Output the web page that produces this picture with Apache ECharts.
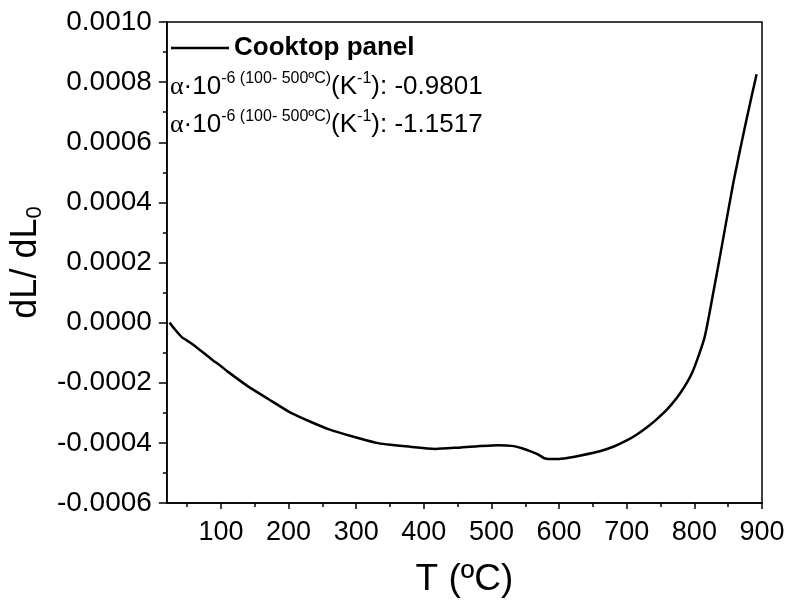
<!DOCTYPE html>
<html>
<head>
<meta charset="utf-8">
<script src="https://cdn.jsdelivr.net/npm/echarts@6/dist/echarts.min.js"></script>
<style>html,body{margin:0;padding:0;background:#fff}#c{width:788px;height:603px}</style>
</head>
<body>
<div id="c"></div>
<script>
const temps = [24, 31, 42, 50, 60, 85, 100, 110, 140, 170, 205, 260, 330, 380, 417, 455, 510, 530, 545, 560, 570, 578, 590, 610, 632, 660, 681, 700, 715, 730, 745, 760, 779, 797, 815, 828, 838, 858, 877, 892];
const dL = [0, -0.00002, -0.000048, -0.00006, -0.000075, -0.00012, -0.000145, -0.000163, -0.000212, -0.000254, -0.000302, -0.000355, -0.0004, -0.000413, -0.00042, -0.000415, -0.000408, -0.00041, -0.000418, -0.00043, -0.00044, -0.000451, -0.000454, -0.000451, -0.000442, -0.000428, -0.000412, -0.000392, -0.000372, -0.000348, -0.00032, -0.000288, -0.000235, -0.000165, -0.00005, 0.0001, 0.000222, 0.00047, 0.000675, 0.000826];
const xMajorTicks = [100, 200, 300, 400, 500, 600, 700, 800, 900];
const xMinorTicks = [50, 150, 250, 350, 450, 550, 650, 750, 850];
const seriesName = 'Cooktop panel';
const coefLines = ['-0.9801', '-1.1517'];

const chart = echarts.init(document.getElementById('c'), null, {renderer: 'canvas'});
const F = 'Liberation Sans, Arial, sans-serif';
const richCoef = {
  a: {fontFamily: 'Liberation Serif, serif', fontSize: 26, lineHeight: 32, color: '#000'},
  n: {fontFamily: F, fontSize: 26, lineHeight: 32, color: '#000'},
  s: {fontFamily: F, fontSize: 16, lineHeight: 17, verticalAlign: 'top', color: '#000'}
};
function coefText(v) {
  return '{a|α}{n|·10}{s|-6 (100- 500ºC)}{n|(K}{s|-1}{n|): ' + v + '}';
}
const option = {
  animation: false,
  backgroundColor: '#fff',
  grid: {left: 163, right: 26, top: 22, bottom: 98, show: true, borderColor: '#000', borderWidth: 1.5, backgroundColor: 'transparent'},
  legend: {
    show: true, left: 166, top: 30, icon: 'rect', itemWidth: 58, itemHeight: 2.5, itemGap: 7,
    textStyle: {fontFamily: F, fontSize: 26, fontWeight: 'bold', color: '#000'},
    data: [seriesName]
  },
  xAxis: [{
    type: 'value', min: 20, max: 900,
    name: 'T (ºC)', nameLocation: 'middle', nameGap: 58,
    nameTextStyle: {fontFamily: F, fontSize: 37, color: '#000'},
    axisLine: {show: true, onZero: false, lineStyle: {color: '#000', width: 1.5}},
    axisTick: {show: true, length: 6, inside: false, lineStyle: {color: '#000', width: 1.5}, customValues: xMajorTicks},
    axisLabel: {fontFamily: F, fontSize: 27, color: '#000', margin: 16, customValues: xMajorTicks},
    splitLine: {show: false}
  }, {
    type: 'value', min: 20, max: 900, position: 'bottom', gridIndex: 0,
    axisLine: {show: false, onZero: false},
    axisTick: {show: true, length: 4, lineStyle: {color: '#000', width: 1.5}, customValues: xMinorTicks},
    axisLabel: {show: false},
    splitLine: {show: false}
  }],
  yAxis: {
    type: 'value', min: -0.0006, max: 0.001, interval: 0.0002,
    name: '{n|dL/ dL}{s|0}', nameLocation: 'middle', nameGap: 116, nameRotate: 90,
    nameTextStyle: {rich: {
      n: {fontFamily: F, fontSize: 36, lineHeight: 40, color: '#000'},
      s: {fontFamily: F, fontSize: 22, lineHeight: 22, verticalAlign: 'bottom', color: '#000'}
    }},
    axisLine: {show: true, onZero: false, lineStyle: {color: '#000', width: 1.5}},
    axisTick: {show: true, length: 8, lineStyle: {color: '#000', width: 1.5}},
    minorTick: {show: true, splitNumber: 2, length: 4, lineStyle: {color: '#000', width: 1.5}},
    axisLabel: {fontFamily: F, fontSize: 28, color: '#000', margin: 15,
      formatter: v => (Math.abs(v) < 1e-10 ? 0 : v).toFixed(4)},
    splitLine: {show: false}
  },
  series: [{
    name: seriesName, type: 'line', xAxisIndex: 0, yAxisIndex: 0,
    data: temps.map((t, i) => [t, dL[i]]),
    showSymbol: false, smooth: 0.2,
    lineStyle: {color: '#000', width: 2.5},
    itemStyle: {color: '#000'}
  }],
  graphic: [
    {type: 'text', left: 170, top: 71, style: {text: coefText(coefLines[0]), rich: richCoef}},
    {type: 'text', left: 170, top: 109, style: {text: coefText(coefLines[1]), rich: richCoef}}
  ]
};
chart.setOption(option);
</script>
</body>
</html>
